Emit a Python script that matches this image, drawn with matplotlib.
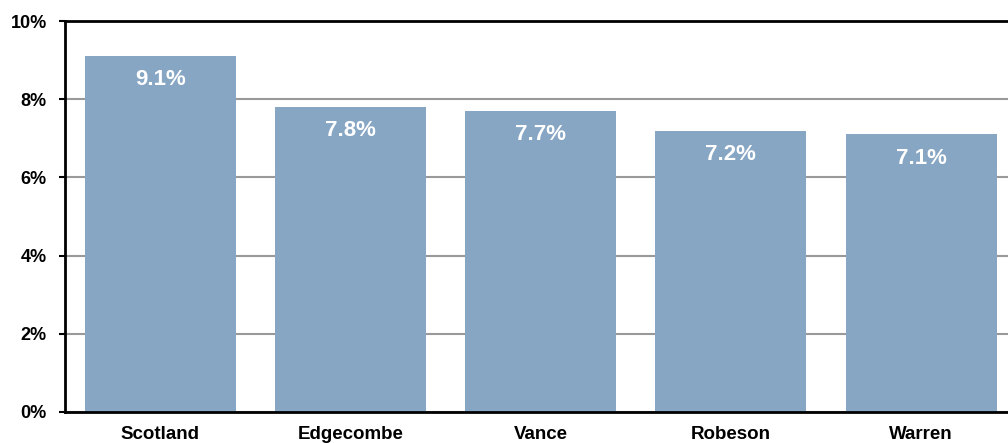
import matplotlib.pyplot as plt

plt.rcParams['font.family'] = ['Liberation Sans', 'DejaVu Sans']

# ==========================================
# Data
# ==========================================
counties = ["Scotland", "Edgecombe", "Vance", "Robeson", "Warren"]
rates = [9.1, 7.8, 7.7, 7.2, 7.1]
labels = ["9.1%", "7.8%", "7.7%", "7.2%", "7.1%"]
yticks = [0, 2, 4, 6, 8, 10]
ytick_labels = ["0%", "2%", "4%", "6%", "8%", "10%"]

# ==========================================
# Plot
# ==========================================
fig = plt.figure(figsize=(10.08, 4.43), dpi=100)
ax = fig.add_axes([0.0645, 0.070, 0.9355, 0.8825])

x = range(len(counties))
bars = ax.bar(x, rates, width=0.794, color="#87A6C4", zorder=2)

for rect, lab in zip(bars, labels):
    ax.annotate(lab, xy=(rect.get_x() + rect.get_width() / 2, rect.get_height()),
                xytext=(0, -17), textcoords="offset points",
                ha="center", va="center", color="white",
                fontsize=16, fontweight="bold", zorder=3)

# plot area runs a little past the right edge of the picture
ax.set_xlim(-0.5, 4.457)
ax.set_ylim(0, 10)
ax.set_yticks(yticks)
ax.set_yticklabels(ytick_labels, fontsize=13, fontweight="bold")
ax.set_xticks(list(x))
ax.set_xticklabels(counties, fontsize=13.5, fontweight="bold")

ax.tick_params(axis="y", length=4, width=1.5, pad=9, direction="out")
ax.tick_params(axis="x", length=0, pad=10)

ax.yaxis.grid(True, color="#999999", linewidth=1.5, zorder=1)
ax.set_axisbelow(True)

ax.spines["right"].set_visible(False)
for s in ["left", "bottom", "top"]:
    ax.spines[s].set_color("black")
    ax.spines[s].set_linewidth(2)

fig.savefig("out.png", dpi=100)
